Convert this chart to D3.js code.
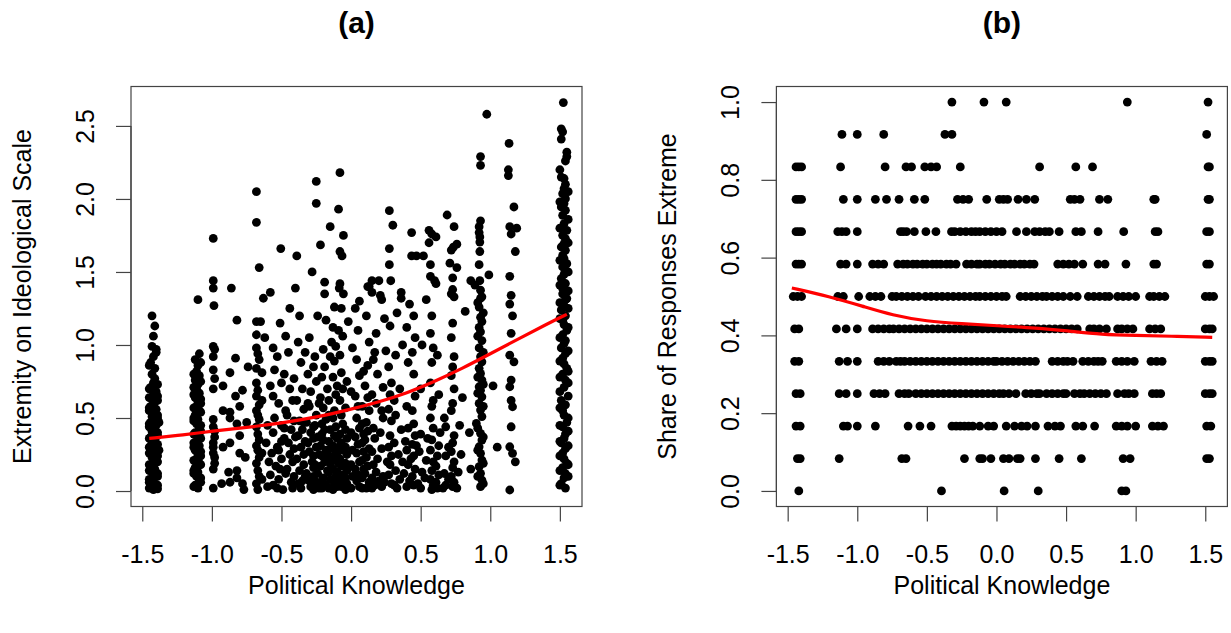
<!DOCTYPE html>
<html>
<head>
<meta charset="utf-8">
<script src="https://cdn.jsdelivr.net/npm/d3@7"></script>
<style>
  body { margin: 0; background: #fff; }
  svg { display: block; }
  text { font-family: "Liberation Sans", Arial, Helvetica, sans-serif; fill: #000; }
</style>
</head>
<body>
<svg id="chart" width="1231" height="633"></svg>
<script>
// ---------- Panel (a): political knowledge vs. extremity on ideological scale ----------
// [knowledge, extremity] pairs, grouped by knowledge level
const extremityLow = [
  [-1.43,1.20],[-1.41,1.13],[-1.42,1.06],[-1.43,0.99],[-1.40,0.95],[-1.42,0.92],[-1.44,0.88],[-1.41,0.84],[-1.43,0.80],[-1.41,0.77],
  [-1.42,0.74],[-1.44,0.71],[-1.40,0.68],[-1.42,0.66],[-1.43,0.63],[-1.41,0.61],[-1.44,0.58],[-1.40,0.56],[-1.42,0.53],[-1.43,0.51],
  [-1.41,0.49],[-1.44,0.47],[-1.40,0.45],[-1.42,0.43],[-1.43,0.41],[-1.41,0.39],[-1.44,0.37],[-1.41,0.35],[-1.43,0.33],[-1.40,0.31],
  [-1.42,0.29],[-1.44,0.27],[-1.41,0.25],[-1.43,0.23],[-1.40,0.21],[-1.42,0.19],[-1.44,0.17],[-1.41,0.15],[-1.43,0.13],[-1.40,0.11],
  [-1.42,0.09],[-1.44,0.07],[-1.41,0.05],[-1.43,0.03],[-1.42,0.01],[-1.39,0.62],[-1.45,0.55],[-1.39,0.50],[-1.45,0.44],[-1.39,0.38],
  [-1.45,0.30],[-1.39,0.24],[-1.45,0.18],[-1.39,0.12],[-1.45,0.08],[-1.39,0.04],[-1.45,0.02],
  [-1.39,0.015],[-1.45,0.06],[-1.39,0.10],[-1.45,0.14],[-1.39,0.20],[-1.45,0.26],[-1.39,0.32],[-1.45,0.36],[-1.39,0.40],[-1.45,0.46],
  [-1.39,0.52],[-1.45,0.57],[-1.39,0.65],[-1.45,0.70],[-1.39,0.73],[-1.45,0.86],[-1.40,0.97],[-1.45,0.64],[-1.38,0.28],[-1.38,0.47],
  [-1.10,1.31],[-1.09,0.94],[-1.12,0.90],[-1.10,0.86],[-1.11,0.82],[-1.09,0.79],[-1.12,0.76],[-1.10,0.73],[-1.11,0.70],[-1.09,0.67],
  [-1.12,0.64],[-1.10,0.61],[-1.11,0.58],[-1.09,0.55],[-1.12,0.52],[-1.10,0.49],[-1.11,0.46],[-1.09,0.43],[-1.12,0.40],[-1.10,0.37],
  [-1.11,0.34],[-1.09,0.31],[-1.12,0.28],[-1.10,0.25],[-1.11,0.22],[-1.09,0.19],[-1.12,0.16],[-1.10,0.13],[-1.11,0.10],[-1.09,0.07],
  [-1.12,0.04],[-1.10,0.02],[-1.13,0.71],[-1.08,0.60],[-1.13,0.50],[-1.08,0.41],[-1.13,0.33],[-1.08,0.24],[-1.13,0.14],[-1.08,0.06],
  [-1.13,0.03],[-1.08,0.09],[-1.13,0.12],[-1.08,0.18],[-1.13,0.21],[-1.08,0.27],[-1.13,0.30],[-1.08,0.36],[-1.13,0.39],[-1.08,0.45],
  [-1.13,0.48],[-1.08,0.54],[-1.13,0.57],[-1.08,0.63],[-1.13,0.66],[-1.08,0.75],[-1.13,0.80],[-1.08,0.88],
  [-0.99,1.73],[-0.99,1.44],[-0.99,1.39],[-0.985,1.27],[-0.99,0.99],[-0.98,0.97],[-0.99,0.92],[-0.99,0.83],[-0.98,0.77],[-0.99,0.70],
  [-0.99,0.49],[-0.99,0.44],[-0.98,0.41],[-0.98,0.37],[-0.99,0.33],[-0.99,0.30],[-0.99,0.26],[-0.98,0.23],[-0.98,0.19],[-0.99,0.15],[-0.99,0.02],
  [-0.92,0.72],[-0.92,0.55],[-0.92,0.30],[-0.93,0.05],
  [-0.86,1.39],[-0.82,1.17],[-0.83,0.91],[-0.87,0.81],[-0.78,0.69],[-0.83,0.65],[-0.87,0.54],[-0.80,0.58],[-0.87,0.50],[-0.82,0.46],
  [-0.80,0.38],[-0.87,0.33],[-0.80,0.26],[-0.88,0.13],[-0.82,0.14],[-0.82,0.09],[-0.87,0.06],[-0.78,0.05],[-0.77,0.01],
  [-0.74,0.85],[-0.75,0.47],[-0.76,0.23],
  [-0.68,2.05],[-0.68,1.84],[-0.66,1.53],[-0.63,1.32],[-0.68,1.16],[-0.65,1.16],[-0.68,1.07],[-0.68,0.98],[-0.67,0.94],[-0.66,0.90],
  [-0.68,0.84],[-0.64,0.81],[-0.68,0.74],[-0.67,0.69],[-0.68,0.65],[-0.66,0.59],[-0.68,0.55],[-0.67,0.52],[-0.66,0.49],[-0.68,0.44],
  [-0.67,0.39],[-0.66,0.35],[-0.68,0.31],[-0.67,0.28],[-0.66,0.23],[-0.68,0.19],[-0.67,0.14],[-0.66,0.10],[-0.68,0.05],[-0.67,0.01],
  [-0.62,1.05],[-0.64,0.62],[-0.64,0.26],[-0.64,0.08]
];
const extremityMid = [
  [-0.58,1.36],[-0.505,1.66],[-0.51,1.15],[-0.55,0.83],[-0.50,0.74],[-0.56,0.65],[-0.52,0.60],[-0.47,0.55],[-0.55,0.50],[-0.50,0.45],
  [-0.56,0.40],[-0.48,0.36],[-0.53,0.30],[-0.57,0.26],[-0.50,0.22],[-0.54,0.17],[-0.47,0.12],[-0.52,0.08],[-0.56,0.04],[-0.49,0.01],
  [-0.45,0.95],[-0.44,0.70],[-0.46,0.52],[-0.43,0.42],[-0.45,0.33],[-0.44,0.25],[-0.46,0.15],[-0.43,0.06],
  [-0.39,1.61],[-0.40,1.39],[-0.37,1.20],[-0.38,1.02],[-0.36,0.88],[-0.39,0.62],[-0.37,0.48],[-0.38,0.38],[-0.36,0.30],[-0.39,0.22],
  [-0.37,0.14],[-0.38,0.05],[-0.36,0.02],[-0.34,0.56],[-0.35,0.42],[-0.34,0.18],
  [-0.28,1.50],[-0.30,1.05],[-0.31,0.80],[-0.29,0.68],[-0.30,0.58],[-0.32,0.47],[-0.29,0.40],[-0.31,0.33],[-0.30,0.27],[-0.28,0.20],
  [-0.32,0.12],[-0.30,0.07],[-0.29,0.03],
  [-0.25,2.12],[-0.25,1.97],[-0.24,1.20],[-0.26,0.92],[-0.25,0.75],[-0.23,0.60],[-0.25,0.52],[-0.26,0.45],[-0.24,0.37],[-0.25,0.30],
  [-0.23,0.25],[-0.26,0.18],[-0.24,0.12],[-0.25,0.06],[-0.23,0.02],
  [-0.22,1.685],[-0.19,1.43],[-0.19,1.35],[-0.18,1.17],[-0.20,0.97],[-0.19,0.85],[-0.17,0.70],[-0.20,0.57],[-0.18,0.49],[-0.19,0.42],
  [-0.20,0.35],[-0.18,0.28],[-0.19,0.20],[-0.17,0.14],[-0.20,0.09],[-0.18,0.04],
  [-0.15,1.81],[-0.12,1.26],[-0.13,1.12],[-0.11,0.99],[-0.12,0.89],[-0.13,0.78],[-0.11,0.66],[-0.12,0.55],[-0.13,0.50],[-0.11,0.44],
  [-0.12,0.38],[-0.13,0.31],[-0.11,0.26],[-0.12,0.21],[-0.13,0.15],[-0.11,0.10],[-0.12,0.05],[-0.13,0.01],
  [-0.08,2.18],[-0.09,1.93],[-0.055,1.75],[-0.08,1.64],[-0.065,1.61],[-0.08,1.42],[-0.085,1.39],[-0.055,1.35],[-0.07,1.25],[-0.06,1.06],
  [-0.08,0.93],[-0.07,0.81],[-0.06,0.70],[-0.08,0.62],[-0.07,0.52],[-0.06,0.46],[-0.08,0.39],[-0.07,0.33],[-0.06,0.28],[-0.08,0.22],
  [-0.07,0.17],[-0.06,0.11],[-0.08,0.07],[-0.07,0.03],
  [0.03,1.25],[0.05,1.10],[0.04,0.90],[0.06,0.79],[0.03,0.65],[0.05,0.58],[0.04,0.50],[0.06,0.43],[0.03,0.37],[0.05,0.32],
  [0.04,0.26],[0.06,0.20],[0.03,0.15],[0.05,0.11],[0.04,0.07],[0.06,0.03],
  [0.12,1.40],[0.11,1.20],[0.13,1.02],[0.12,0.86],[0.10,0.72],[0.12,0.64],[0.13,0.55],[0.11,0.47],[0.12,0.41],[0.10,0.35],
  [0.13,0.29],[0.11,0.23],[0.12,0.17],[0.10,0.12],[0.13,0.06],[0.11,0.02],
  [0.15,1.44],[0.20,1.44],[0.13,1.40],[0.15,1.36],[0.21,1.34],[0.22,1.31],[0.18,1.08],[0.17,0.95],[0.19,0.80],[0.18,0.60],
  [0.17,0.36],[0.19,0.22],[0.18,0.13],[0.17,0.04]
];
// crowded low-extremity band in the middle of the knowledge range
const extremityCrowd = [
  [-0.60,0.03],[-0.58,0.11],[-0.59,0.20],[-0.61,0.33],[-0.60,0.45],[-0.53,0.02],[-0.51,0.15],[-0.52,0.28],[-0.50,0.34],[-0.48,0.43],
  [-0.42,0.02],[-0.41,0.10],[-0.42,0.20],[-0.41,0.29],[-0.40,0.37],[-0.41,0.48],[-0.35,0.07],[-0.33,0.10],[-0.34,0.25],[-0.33,0.34],
  [-0.34,0.47],[-0.27,0.01],[-0.27,0.10],[-0.27,0.16],[-0.27,0.24],[-0.27,0.36],[-0.27,0.44],[-0.21,0.02],[-0.21,0.07],[-0.22,0.17],
  [-0.21,0.24],[-0.22,0.31],[-0.21,0.39],[-0.21,0.46],[-0.16,0.02],[-0.15,0.08],[-0.16,0.13],[-0.15,0.19],[-0.16,0.24],[-0.15,0.29],
  [-0.16,0.34],[-0.15,0.42],[-0.16,0.52],[-0.10,0.03],[-0.09,0.08],[-0.10,0.13],[-0.09,0.19],[-0.10,0.24],[-0.09,0.30],[-0.10,0.36],
  [-0.04,0.01],[-0.03,0.05],[-0.04,0.09],[-0.03,0.14],[-0.04,0.19],[-0.03,0.25],[-0.04,0.30],[-0.03,0.36],[-0.04,0.42],[0.00,0.02],
  [0.01,0.10],[0.00,0.18],[0.01,0.28],[0.00,0.40],[0.08,0.02],[0.08,0.09],[0.09,0.15],[0.08,0.21],[0.09,0.27],[0.08,0.33],
  [0.09,0.39],[0.08,0.46],[0.15,0.02],[0.15,0.09],[0.16,0.18],[0.15,0.27],[0.16,0.43],[0.22,0.03],[0.23,0.10],[0.22,0.29],
  [0.23,0.50],[0.31,0.04],[0.32,0.14],[0.31,0.33],[0.32,0.52],[0.40,0.03],[0.41,0.18],[0.40,0.28],[0.41,0.43],[0.50,0.02],
  [0.51,0.13],[0.49,0.27],[0.50,0.39],[0.62,0.02],[0.63,0.11],[0.62,0.24],[0.63,0.31],[0.68,0.04],[0.67,0.12],[0.68,0.24],[0.68,0.44],
  [-0.58,0.72],[-0.53,0.92],[-0.48,0.80],[-0.42,0.62],[-0.41,0.77],[-0.35,0.70],[-0.33,0.95],[-0.31,0.60],[-0.27,0.85],[-0.22,0.64],
  [-0.21,0.78],[-0.16,0.62],[-0.15,0.92],[-0.10,0.72],[-0.09,1.10],[-0.04,0.57],[-0.03,0.75],[0.00,0.68],[0.01,0.98],[0.08,0.58],
  [0.09,0.82],[0.15,0.66],[0.16,0.90],[0.22,0.55],[0.23,0.71],[0.31,0.62],[0.32,0.93],[0.40,0.58],[0.41,0.88],[0.50,0.70],
  [0.51,1.00],[0.63,0.66],[0.62,0.93],[0.67,0.50],[0.78,0.45],[0.80,0.64],[0.42,1.28],[0.40,1.12],[0.33,1.22],[0.24,1.18],
  [0.25,0.96],[0.06,1.30],[-0.02,1.16],[-0.14,1.02],[-0.44,1.25],[-0.47,1.06],[-0.56,0.98],
  [0.24,0.06],[0.26,0.20],[0.33,0.02],[0.34,0.25],[0.38,0.12],[0.39,0.34],[0.42,0.07],[0.43,0.22],[0.48,0.05],[0.47,0.31],
  [0.53,0.09],[0.54,0.21],[0.55,0.36],[0.61,0.06],[0.61,0.17],[0.64,0.40],[0.66,0.02],[0.70,0.08],[0.70,0.30],[0.76,0.02],
  [0.77,0.13],[0.79,0.25],[0.20,0.07],[0.21,0.40]
];
const extremityHigh = [
  [0.275,1.92],[0.30,1.82],[0.275,1.66],[0.275,1.55],[0.285,1.44],[0.28,1.13],[0.27,0.85],[0.29,0.74],[0.28,0.66],[0.27,0.56],
  [0.29,0.48],[0.28,0.38],[0.27,0.30],[0.29,0.24],[0.28,0.18],[0.27,0.11],[0.29,0.05],
  [0.36,1.36],[0.36,1.32],[0.37,1.00],[0.35,0.70],[0.36,0.42],[0.37,0.20],[0.35,0.08],
  [0.435,1.77],[0.435,1.61],[0.47,1.61],[0.52,1.61],[0.45,1.20],[0.46,1.05],[0.44,0.95],[0.45,0.80],[0.46,0.65],[0.44,0.55],
  [0.45,0.46],[0.46,0.38],[0.44,0.32],[0.45,0.24],[0.46,0.15],[0.44,0.10],[0.45,0.04],
  [0.56,1.785],[0.58,1.76],[0.61,1.74],[0.56,1.70],[0.57,1.55],[0.57,1.47],[0.60,1.44],[0.61,1.42],[0.54,1.31],[0.58,1.20],
  [0.57,1.08],[0.59,0.98],[0.58,0.88],[0.57,0.74],[0.59,0.62],[0.58,0.58],[0.57,0.50],[0.59,0.43],[0.58,0.35],[0.57,0.28],
  [0.59,0.20],[0.58,0.14],[0.57,0.08],[0.59,0.04],[0.58,0.01],
  [0.69,1.89],[0.74,1.81],[0.76,1.69],[0.735,1.67],[0.72,1.65],[0.71,1.56],[0.76,1.53],[0.73,1.46],[0.73,1.38],[0.72,1.35],
  [0.74,1.33],[0.73,1.15],[0.72,1.05],[0.74,0.92],[0.73,0.85],[0.72,0.79],[0.74,0.70],[0.73,0.60],[0.72,0.55],[0.74,0.38],
  [0.73,0.33],[0.72,0.27],[0.74,0.20],[0.73,0.16],[0.72,0.10],[0.74,0.06],[0.73,0.03],
  [0.86,1.44],[0.82,1.23],[0.85,0.40],[0.86,0.15],
  [0.975,2.58],[0.93,2.29],[0.93,2.23],[0.93,1.85],[0.92,1.81],[0.92,1.77],[0.925,1.74],[0.925,1.705],[0.925,1.64],[0.92,1.55],
  [0.925,1.44],[0.89,1.41],[0.99,1.48],[0.93,1.375],[0.94,1.33],[0.93,1.32],[0.92,1.26],[0.93,1.19],[0.94,1.16],[0.92,1.12],
  [0.93,1.09],[0.94,1.03],[0.92,0.98],[0.93,0.92],[0.94,0.885],[0.92,0.84],[0.93,0.805],[0.94,0.76],[0.92,0.714],[0.93,0.69],
  [0.94,0.645],[0.92,0.60],[0.93,0.554],[0.94,0.51],[0.90,0.463],[0.93,0.395],[0.94,0.349],[0.92,0.303],[0.93,0.258],[0.94,0.212],
  [0.92,0.167],[0.93,0.121],[0.94,0.075],[0.93,0.03],
  [0.95,0.05],[0.91,0.10],[0.95,0.19],[0.91,0.28],[0.95,0.37],[0.91,0.43],[0.95,0.58],[0.91,0.67],[0.95,0.73],[0.91,0.78],
  [0.95,0.95],[0.91,1.06],[0.95,1.22],[0.91,1.29],
  [1.135,2.38],[1.13,2.20],[1.13,2.16],[1.17,1.945],[1.14,1.81],[1.19,1.80],[1.15,1.76],[1.18,1.64],[1.14,1.47],[1.15,1.34],
  [1.14,1.28],[1.16,1.20],[1.15,1.08],[1.14,0.93],[1.17,0.885],[1.15,0.76],[1.14,0.714],[1.15,0.62],[1.16,0.577],[1.15,0.44],
  [1.14,0.303],[1.16,0.258],[1.18,0.20],[1.14,0.007],[1.05,0.30],[1.02,0.72]
];
const extremityTop = [
  [1.525,2.66],[1.51,2.48],[1.52,2.46],[1.51,2.41],[1.55,2.32],[1.55,2.29],[1.54,2.26],[1.51,2.15],[1.53,2.14],[1.54,2.10],
  [1.53,2.07],[1.52,2.036],[1.54,2.002],[1.53,1.968],[1.51,1.945],[1.54,1.922],[1.52,1.888],[1.53,1.831],[1.55,1.785],[1.52,1.751],
  [1.54,1.728],[1.53,1.694],[1.51,1.671],[1.54,1.648],[1.52,1.614],[1.53,1.591],[1.55,1.557],[1.52,1.534],[1.54,1.511],[1.53,1.484],
  [1.51,1.455],[1.54,1.421],[1.52,1.387],[1.53,1.353],[1.55,1.318],
  [1.52,1.35],[1.54,1.31],[1.53,1.27],[1.51,1.24],[1.54,1.20],[1.52,1.17],[1.53,1.14],[1.55,1.10],[1.52,1.07],[1.54,1.03],
  [1.53,1.01],[1.51,0.98],[1.54,0.94],[1.52,0.91],[1.53,0.87],[1.55,0.84],[1.52,0.80],[1.54,0.76],[1.53,0.71],[1.51,0.62],
  [1.54,0.59],[1.52,0.55],[1.53,0.52],[1.55,0.47],[1.52,0.44],[1.54,0.39],[1.53,0.36],[1.51,0.33],[1.54,0.29],[1.52,0.26],
  [1.53,0.22],[1.55,0.19],[1.52,0.16],[1.54,0.12],[1.53,0.09],[1.51,0.05],[1.54,0.02],
  [1.50,0.04],[1.56,0.10],[1.50,0.14],[1.56,0.18],[1.50,0.24],[1.56,0.31],[1.50,0.34],[1.56,0.41],[1.50,0.45],[1.56,0.50],
  [1.50,0.57],[1.56,0.65],[1.50,0.68],[1.56,0.74],[1.50,0.78],[1.56,0.82],[1.50,0.89],[1.56,0.96],[1.50,1.05],[1.56,1.12],
  [1.50,1.18],[1.56,1.25],[1.50,1.29],[1.56,1.37],[1.50,1.41],[1.56,1.50],[1.50,1.58],[1.56,1.70],[1.50,1.80],[1.56,1.86],
  [1.50,1.98],[1.56,2.05],[1.50,2.20]
];
// Smoothed trend (panel a)
const trendAKnow = [-1.45, -1.2, -1.0, -0.75, -0.5, -0.25, 0.0, 0.2, 0.4, 0.6, 0.8, 1.0, 1.2, 1.4, 1.55];
const trendAExt  = [0.36, 0.385, 0.41, 0.435, 0.465, 0.505, 0.56, 0.61, 0.67, 0.75, 0.84, 0.94, 1.04, 1.14, 1.21];

// ---------- Panel (b): political knowledge vs. share of responses extreme ----------
const shareLevels = [0, 0.0833, 0.1667, 0.25, 0.3333, 0.4167, 0.5, 0.5833, 0.6667, 0.75, 0.8333, 0.9167, 1];
const knowledgeAtShare = [
  [-1.42,-0.395,0.055,0.30,0.90,0.93],
  [-1.43,-1.41,-1.13,-0.68,-0.65,-0.23,-0.12,-0.10,-0.04,0.05,0.09,0.15,0.17,0.28,0.45,0.61,0.91,0.96,1.51,1.53],
  [-1.44,-1.41,-1.10,-1.07,-1.0,-0.87,-0.635,-0.55,-0.47,-0.32,-0.29,-0.26,-0.23,-0.20,-0.17,-0.12,-0.06,-0.02,0.07,0.13,
   0.18,0.22,0.28,0.37,0.42,0.46,0.57,0.62,0.705,0.86,0.90,0.94,1.0,1.12,1.16,1.20,1.51,1.54],
  [-1.44,-1.41,-1.13,-1.08,-1.0,-0.88,-0.84,-0.80,-0.70,-0.66,-0.63,-0.58,-0.54,-0.50,-0.46,-0.42,-0.38,-0.34,-0.30,-0.26,
   -0.22,-0.18,-0.14,-0.10,-0.06,-0.02,0.02,0.05,0.09,0.14,0.21,0.25,0.29,0.31,0.36,0.40,0.44,0.48,0.50,0.56,
   0.60,0.63,0.67,0.71,0.75,0.79,0.87,0.92,0.95,0.99,1.12,1.15,1.18,1.50,1.53,1.55],
  [-1.45,-1.42,-1.13,-1.07,-1.0,-0.85,-0.81,-0.77,-0.72,-0.69,-0.66,-0.62,-0.58,-0.54,-0.50,-0.46,-0.42,-0.38,-0.34,-0.30,
   -0.26,-0.22,-0.18,-0.14,-0.10,-0.06,-0.02,0.0,0.04,0.08,0.12,0.16,0.20,0.24,0.28,0.40,0.44,0.48,0.51,0.55,
   0.62,0.66,0.70,0.73,0.76,0.86,0.90,0.94,0.99,1.11,1.15,1.19,1.50,1.53,1.55],
  [-1.45,-1.42,-1.15,-1.08,-1.0,-0.89,-0.85,-0.81,-0.77,-0.74,-0.70,-0.66,-0.62,-0.58,-0.54,-0.50,-0.46,-0.42,-0.38,-0.34,
   -0.30,-0.26,-0.22,-0.18,-0.14,-0.10,-0.06,-0.02,0.02,0.06,0.10,0.14,0.18,0.22,0.26,0.30,0.34,0.38,0.42,0.46,
   0.50,0.54,0.58,0.67,0.70,0.74,0.79,0.87,0.90,0.94,0.98,1.10,1.14,1.18,1.50,1.53,1.55],
  [-1.46,-1.43,-1.40,-1.14,-1.10,-0.99,-0.91,-0.87,-0.83,-0.75,-0.72,-0.68,-0.64,-0.60,-0.56,-0.51,-0.47,-0.43,-0.39,-0.35,
   -0.31,-0.27,-0.23,-0.19,-0.15,-0.12,-0.08,-0.04,0.0,0.04,0.07,0.17,0.21,0.25,0.29,0.33,0.36,0.40,0.44,0.48,
   0.53,0.58,0.66,0.70,0.74,0.78,0.81,0.87,0.91,0.95,1.0,1.10,1.13,1.17,1.21,1.50,1.53,1.56],
  [-1.44,-1.42,-1.40,-1.12,-1.08,-1.0,-0.89,-0.85,-0.81,-0.71,-0.67,-0.64,-0.60,-0.57,-0.53,-0.50,-0.46,-0.43,-0.40,-0.36,
   -0.33,-0.29,-0.215,-0.18,-0.14,-0.12,-0.08,-0.05,-0.01,0.03,0.06,0.10,0.13,0.17,0.20,0.24,0.27,0.44,0.48,0.52,
   0.56,0.62,0.73,0.78,0.93,1.13,1.15,1.51,1.53],
  [-1.44,-1.42,-1.40,-1.14,-1.11,-1.08,-1.0,-0.69,-0.67,-0.646,-0.59,-0.507,-0.435,-0.323,-0.30,-0.26,-0.22,-0.18,-0.15,-0.12,
   -0.08,-0.04,0.0,0.04,0.144,0.215,0.275,0.31,0.35,0.38,0.45,0.57,0.61,0.73,0.914,1.14,1.16,1.51,1.53],
  [-1.44,-1.42,-1.40,-1.10,-1.0,-0.87,-0.79,-0.70,-0.59,-0.515,-0.28,-0.24,-0.20,-0.07,0.02,0.05,0.08,0.155,0.215,0.275,
   0.53,0.56,0.60,0.74,0.80,1.13,1.14,1.52,1.53],
  [-1.44,-1.42,-1.40,-1.12,-0.80,-0.65,-0.61,-0.515,-0.47,-0.43,-0.26,0.31,0.57,0.69,1.52,1.53],
  [-1.11,-1.0,-0.81,-0.37,-0.32,1.51],
  [-0.32,-0.09,0.07,0.94,1.52]
];
// Smoothed trend (panel b)
const trendBKnow  = [-1.47, -1.2, -0.96, -0.75, -0.5, -0.25, 0.0, 0.29, 0.5, 0.76, 1.0, 1.25, 1.55];
const trendBShare = [0.522, 0.50, 0.475, 0.452, 0.436, 0.43, 0.425, 0.419, 0.412, 0.402, 0.400, 0.398, 0.395];

// Tick values
const knowledgeTicks = [-1.5, -1.0, -0.5, 0.0, 0.5, 1.0, 1.5];
const extremityTicks = [0.0, 0.5, 1.0, 1.5, 2.0, 2.5];
const shareTicks = [0.0, 0.2, 0.4, 0.6, 0.8, 1.0];

// ---------- drawing ----------
const svg = d3.select("#chart");
const FONT = 25;
const fmt = d => d.toFixed(1);   // plain hyphen for negatives

function drawPanel(cfg) {
  const x = d3.scaleLinear().domain(cfg.xDomain).range([cfg.left, cfg.right]);
  const y = d3.scaleLinear().domain(cfg.yDomain).range([cfg.bottom, cfg.top]);
  const g = svg.append("g");

  // points
  g.append("g").selectAll("circle").data(cfg.points).join("circle")
    .attr("cx", d => x(d[0])).attr("cy", d => y(d[1])).attr("r", 4.4).attr("fill", "#000");

  // smoothed line
  const line = d3.line().x(d => x(d[0])).y(d => y(d[1])).curve(d3.curveBasis);
  g.append("path").datum(cfg.trend).attr("d", line)
    .attr("fill", "none").attr("stroke", "#ff0000").attr("stroke-width", 3.2);

  // plot frame
  g.append("rect").attr("x", cfg.left).attr("y", cfg.top)
    .attr("width", cfg.right - cfg.left).attr("height", cfg.bottom - cfg.top)
    .attr("fill", "none").attr("stroke", "#444").attr("stroke-width", 1.2);

  // x axis
  const xAxis = d3.axisBottom(x).tickValues(cfg.xTicks).tickSize(15).tickPadding(0).tickFormat(fmt);
  const gx = g.append("g").attr("transform", `translate(0,${cfg.bottom})`).call(xAxis);
  gx.select(".domain").attr("d", `M${x(cfg.xTicks[0])},0H${x(cfg.xTicks[cfg.xTicks.length - 1])}`)
    .attr("stroke", "#444").attr("stroke-width", 1.2);
  gx.selectAll(".tick line").attr("stroke", "#444").attr("stroke-width", 1.2);
  gx.selectAll(".tick text").attr("font-size", FONT).attr("fill", "#000")
    .attr("font-family", "Liberation Sans, Arial, sans-serif")
    .attr("dy", null).attr("y", 56.5);

  // y axis
  const yAxis = d3.axisLeft(y).tickValues(cfg.yTicks).tickSize(15).tickPadding(0).tickFormat(fmt);
  const gy = g.append("g").attr("transform", `translate(${cfg.left},0)`).call(yAxis);
  gy.select(".domain").attr("d", `M0,${y(cfg.yTicks[0])}V${y(cfg.yTicks[cfg.yTicks.length - 1])}`)
    .attr("stroke", "#444").attr("stroke-width", 1.2);
  gy.selectAll(".tick line").attr("stroke", "#444").attr("stroke-width", 1.2);
  gy.selectAll(".tick text").attr("font-size", FONT).attr("fill", "#000")
    .attr("font-family", "Liberation Sans, Arial, sans-serif")
    .attr("x", null).attr("dy", null).attr("text-anchor", "middle")
    .attr("transform", "translate(-37,0) rotate(-90)");

  const cx = (cfg.left + cfg.right) / 2;
  const cy = (cfg.top + cfg.bottom) / 2;

  // titles
  g.append("text").attr("x", cx).attr("y", 33).attr("text-anchor", "middle")
    .attr("font-size", 30).attr("font-weight", "bold").text(cfg.title);
  g.append("text").attr("x", cx).attr("y", 594).attr("text-anchor", "middle")
    .attr("font-size", FONT).text(cfg.xLabel);
  g.append("text").attr("transform", `translate(${cfg.left - 100},${cy}) rotate(-90)`)
    .attr("text-anchor", "middle").attr("font-size", FONT).text(cfg.yLabel);
}

const knowledgeDomain = [-1.581, 1.659];

drawPanel({
  title: "(a)",
  xLabel: "Political Knowledge",
  yLabel: "Extremity on Ideological Scale",
  left: 131, right: 582, top: 86.5, bottom: 506.5,
  xDomain: knowledgeDomain, yDomain: [-0.106, 2.77],
  xTicks: knowledgeTicks, yTicks: extremityTicks,
  points: [].concat(extremityLow, extremityMid, extremityCrowd, extremityHigh, extremityTop),
  trend: trendAKnow.map((k, i) => [k, trendAExt[i]])
});

const sharePoints = [];
knowledgeAtShare.forEach((row, i) => row.forEach(k => sharePoints.push([k, shareLevels[i]])));

drawPanel({
  title: "(b)",
  xLabel: "Political Knowledge",
  yLabel: "Share of Responses Extreme",
  left: 776.4, right: 1227.4, top: 86.5, bottom: 506.5,
  xDomain: knowledgeDomain, yDomain: [-0.04, 1.04],
  xTicks: knowledgeTicks, yTicks: shareTicks,
  points: sharePoints,
  trend: trendBKnow.map((k, i) => [k, trendBShare[i]])
});
</script>
</body>
</html>
